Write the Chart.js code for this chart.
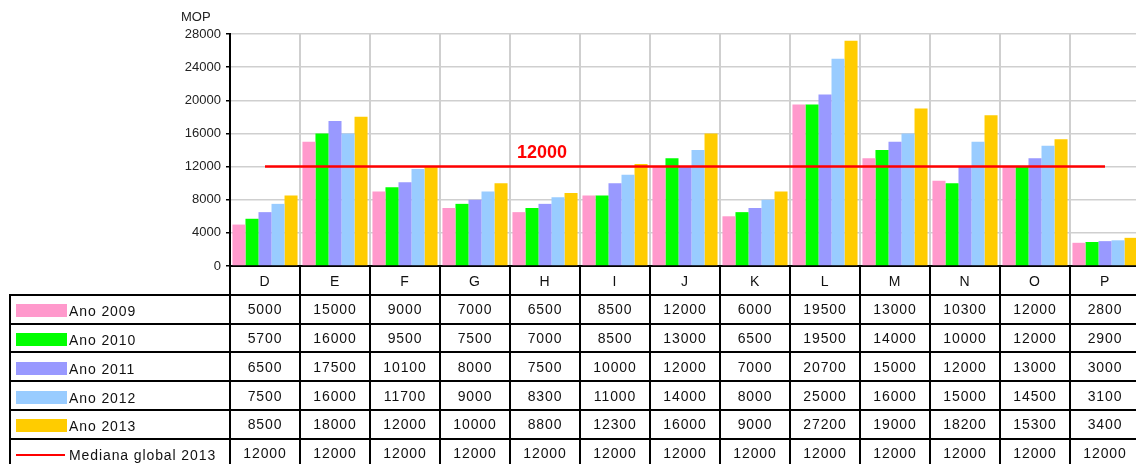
<!DOCTYPE html>
<html>
<head>
<meta charset="utf-8">
<title>MOP por ano</title>
<script src="https://cdn.jsdelivr.net/npm/chart.js@4/dist/chart.umd.min.js"></script>
<style>
    body { margin: 0; background: #fff; font-family: "Liberation Sans", Arial, sans-serif; }
    #wrap { position: relative; width: 1136px; height: 464px; overflow: hidden; }
    #myChart { position: absolute; left: 0; top: 0; }
    .line { position: absolute; background: #000; }
    .cell { position: absolute; font-size: 14px; letter-spacing: 0.9px; color: #111; white-space: nowrap; }
    .swatch { position: absolute; }
</style>
</head>
<body>
<div id="wrap">
    <canvas id="myChart" width="1140" height="464"></canvas>
    <div id="table"></div>
</div>
<script>
const categories = ["D", "E", "F", "G", "H", "I", "J", "K", "L", "M", "N", "O", "P"];
const ano2009 = [5000, 15000, 9000, 7000, 6500, 8500, 12000, 6000, 19500, 13000, 10300, 12000, 2800];
const ano2010 = [5700, 16000, 9500, 7500, 7000, 8500, 13000, 6500, 19500, 14000, 10000, 12000, 2900];
const ano2011 = [6500, 17500, 10100, 8000, 7500, 10000, 12000, 7000, 20700, 15000, 12000, 13000, 3000];
const ano2012 = [7500, 16000, 11700, 9000, 8300, 11000, 14000, 8000, 25000, 16000, 15000, 14500, 3100];
const ano2013 = [8500, 18000, 12000, 10000, 8800, 12300, 16000, 9000, 27200, 19000, 18200, 15300, 3400];
const mediana2013 = [12000, 12000, 12000, 12000, 12000, 12000, 12000, 12000, 12000, 12000, 12000, 12000, 12000];

const seriesNames = ["Ano 2009", "Ano 2010", "Ano 2011", "Ano 2012", "Ano 2013"];
const medianaName = "Mediana global 2013";
const yMin = 0;
const yMax = 28000;
const yStep = 4000;
const yTitle = "MOP";
const medianaLabelIndex = 4;   // the "12000" caption sits over H

const barColors = ["#ff99cc", "#00ff00", "#9999ff", "#99ccff", "#ffcc00"];
const seriesValues = [ano2009, ano2010, ano2011, ano2012, ano2013];
const fontFamily = '"Liberation Sans", Arial, sans-serif';

// caption over the median line and the unit above the y axis
const extraText = {
    id: "extraText",
    afterDatasetsDraw(chart) {
        const { ctx, chartArea, scales } = chart;
        ctx.save();
        ctx.fillStyle = "#ff0000";
        ctx.font = "bold 18px " + fontFamily;
        ctx.textAlign = "center";
        ctx.textBaseline = "alphabetic";
        let v = mediana2013[medianaLabelIndex];
        ctx.fillText(String(v), scales.x.getPixelForValue(medianaLabelIndex) - 3, scales.y.getPixelForValue(v) - 9);

        ctx.fillStyle = "#222";
        ctx.font = "13px " + fontFamily;
        ctx.textAlign = "left";
        ctx.textBaseline = "middle";
        ctx.fillText(yTitle, chartArea.left - 49, chartArea.top - 17);
        ctx.restore();
    }
};

let datasets = seriesValues.map((vals, i) => ({
    type: "bar",
    label: seriesNames[i],
    data: vals,
    backgroundColor: barColors[i],
    borderWidth: 0,
    categoryPercentage: 0.93,
    barPercentage: 1,
    order: 1
}));
datasets.push({
    type: "line",
    label: medianaName,
    data: mediana2013,
    borderColor: "#ff0000",
    borderWidth: 2.5,
    pointRadius: 0,
    fill: false,
    order: 0
});

let ctx = document.getElementById("myChart");
let myChart = new Chart(ctx, {
    type: "bar",
    data: { labels: categories, datasets: datasets },
    options: {
        responsive: false,
        animation: false,
        layout: { padding: { top: 34, bottom: 198, left: 0, right: 0 } },
        plugins: { legend: { display: false }, tooltip: { enabled: false } },
        scales: {
            x: {
                offset: true,
                ticks: { display: false },
                grid: { offset: true, color: "#cfcfcf", lineWidth: 2, drawTicks: false },
                border: { color: "#000", width: 2 },
                afterFit: scale => { scale.height = 0; }
            },
            y: {
                min: yMin,
                max: yMax,
                ticks: {
                    stepSize: yStep,
                    color: "#222",
                    padding: 5,
                    font: { family: fontFamily, size: 13 },
                    callback: value => String(value)
                },
                grid: { color: "#cfcfcf", lineWidth: 1.5, tickColor: "#000", tickLength: 4 },
                border: { color: "#000", width: 2 },
                afterFit: scale => { scale.width = 230; }
            }
        }
    },
    plugins: [extraText]
});

buildTable(myChart);

// data table under the plot, columns follow the x scale
function buildTable(chart) {
    const box = document.getElementById("table");
    const area = chart.chartArea;
    const xScale = chart.scales.x;
    const colW = (area.right - area.left) / categories.length;
    const rowH = 28.8;
    const tableLeft = 10;
    const top = area.bottom;
    const rowCount = seriesValues.length + 1;
    const bottom = top + rowH * (rowCount + 1);

    function addLine(x, y, w, h) {
        let d = document.createElement("div");
        d.className = "line";
        d.style.left = Math.round(x) + "px";
        d.style.top = Math.round(y) + "px";
        d.style.width = Math.round(w) + "px";
        d.style.height = Math.round(h) + "px";
        box.append(d);
    }

    function addText(text, cx, cy, align) {
        let d = document.createElement("div");
        d.className = "cell";
        d.textContent = text;
        d.style.top = Math.round(cy - 9) + "px";
        d.style.lineHeight = "18px";
        if (align === "center") {
            d.style.left = Math.round(cx - 40) + "px";
            d.style.width = "80px";
            d.style.textAlign = "center";
        } else {
            d.style.left = Math.round(cx) + "px";
        }
        box.append(d);
    }

    /* grid lines */
    for (let r = 1; r <= rowCount + 1; r++) {
        addLine(tableLeft - 1, top + r * rowH - 1, area.right - tableLeft + 1, 2);
    }
    for (let c = 0; c <= categories.length; c++) {
        addLine(area.left + c * colW - 1, top, 2, bottom - top);
    }
    addLine(tableLeft - 1, top + rowH - 1, 2, bottom - top - rowH);

    /* category header */
    for (let c = 0; c < categories.length; c++) {
        addText(categories[c], xScale.getPixelForValue(c), top + rowH / 2 + 1, "center");
    }

    /* series rows */
    const allRows = seriesValues.concat([mediana2013]);
    const allNames = seriesNames.concat([medianaName]);
    for (let r = 0; r < allRows.length; r++) {
        let cy = top + rowH * (r + 1) + rowH / 2;
        let marker = document.createElement("div");
        marker.className = "swatch";
        marker.style.left = "16px";
        marker.style.width = "51px";
        if (r < seriesValues.length) {
            marker.style.top = Math.round(cy - 5) + "px";
            marker.style.height = "13px";
            marker.style.background = barColors[r];
        } else {
            marker.style.top = Math.round(cy + 1) + "px";
            marker.style.height = "2px";
            marker.style.width = "49px";
            marker.style.background = "#ff0000";
        }
        box.append(marker);
        addText(allNames[r], 69, cy + 2, "left");

        for (let c = 0; c < categories.length; c++) {
            addText(String(allRows[r][c]), xScale.getPixelForValue(c), cy, "center");
        }
    }
}
</script>
</body>
</html>
